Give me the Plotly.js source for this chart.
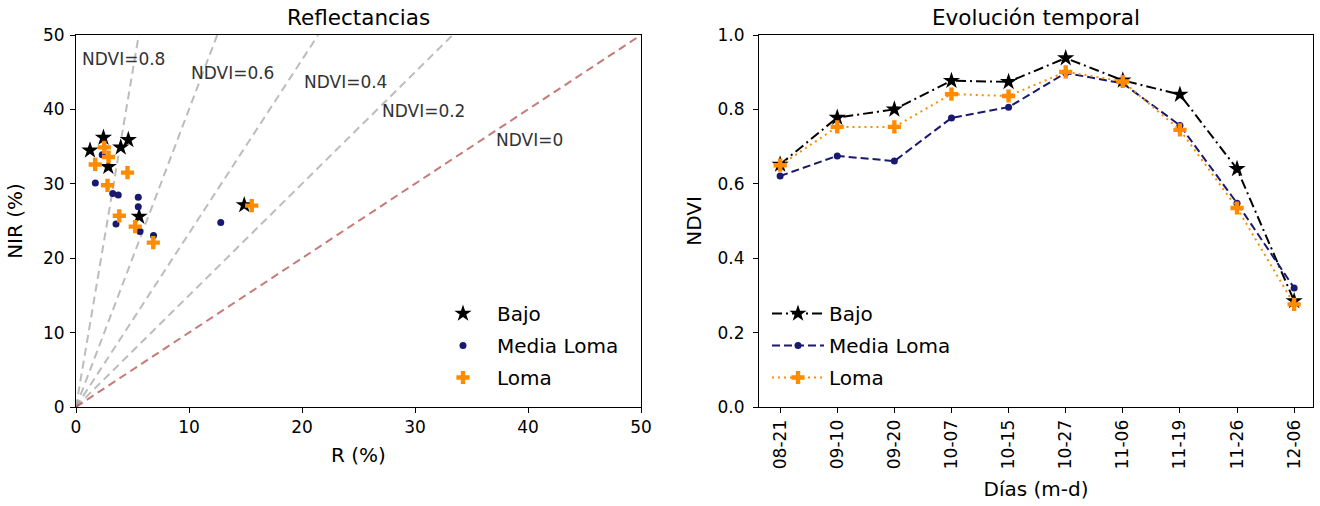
<!DOCTYPE html>
<html>
<head>
<meta charset="utf-8">
<script src="https://cdn.plot.ly/plotly-3.0.1.min.js"></script>
<style>body{margin:0;padding:0;background:#fff}#chart{width:1320px;height:506px}</style>
</head>
<body>
<div id="chart"></div>
<script>
// ---- Left panel: reflectances (R %, NIR %) ----
const bajoR   = [1.24, 2.43, 2.86, 3.96, 4.63, 5.59, 14.89];
const bajoNIR = [34.5, 36.2, 32.3, 34.9, 35.9, 25.6, 27.15];
const mediaR   = [1.71, 2.32, 3.25, 3.74, 5.51, 5.51, 3.54, 5.66, 6.86, 12.81];
const mediaNIR = [30.1, 33.9, 28.7, 28.5, 28.2, 26.9, 24.6, 23.6, 23.05, 24.8];
const lomaR   = [2.50, 2.88, 1.70, 4.56, 2.79, 3.83, 5.24, 6.84, 15.55];
const lomaNIR = [34.9, 33.6, 32.6, 31.5, 29.8, 25.7, 24.25, 22.1, 27.06];
const ndviLevels = [0.8, 0.6, 0.4, 0.2, 0];
const ndviLabels = ["NDVI=0.8", "NDVI=0.6", "NDVI=0.4", "NDVI=0.2", "NDVI=0"];
const ndviLabelPos = [[0.35, 46.8], [10.0, 44.9], [20.0, 43.7], [26.9, 39.8], [37.0, 35.9]];

// ---- Right panel: NDVI time series ----
const dates = ["08-21","09-10","09-20","10-07","10-15","10-27","11-06","11-19","11-26","12-06"];
const ndviBajo  = [0.652, 0.778, 0.800, 0.877, 0.874, 0.938, 0.878, 0.840, 0.640, 0.285];
const ndviMedia = [0.621, 0.675, 0.661, 0.777, 0.806, 0.898, 0.870, 0.757, 0.548, 0.320];
const ndviLoma  = [0.650, 0.753, 0.753, 0.841, 0.836, 0.901, 0.875, 0.745, 0.535, 0.276];

const NAVY = '#191970', ORANGE = '#ff8c00';
const traces = [];
const AX = 50;
ndviLevels.forEach((n, i) => {
  const s = (1 + n) / (1 - n);
  const xe = Math.min(AX, AX / s);
  traces.push({
    x: [0, xe], y: [0, xe * s], mode: 'lines', type: 'scatter', xaxis: 'x', yaxis: 'y',
    line: {color: n === 0 ? 'rgba(178,80,75,0.75)' : 'rgba(160,160,160,0.7)', dash: '8px,5px', width: 2},
    showlegend: false, hoverinfo: 'skip'
  });
});
traces.push({x: bajoR, y: bajoNIR, mode: 'markers', type: 'scatter', name: 'Bajo', legend: 'legend', legendgroup: 'a',
  marker: {symbol: 'star', color: 'black', size: 13}, xaxis: 'x', yaxis: 'y'});
traces.push({x: mediaR, y: mediaNIR, mode: 'markers', type: 'scatter', name: 'Media Loma', legend: 'legend', legendgroup: 'b',
  marker: {symbol: 'circle', color: NAVY, size: 7}, xaxis: 'x', yaxis: 'y'});
traces.push({x: lomaR, y: lomaNIR, mode: 'markers', type: 'scatter', name: 'Loma', legend: 'legend', legendgroup: 'c',
  marker: {symbol: 'cross', color: ORANGE, size: 11}, xaxis: 'x', yaxis: 'y'});

traces.push({x: dates, y: ndviBajo, mode: 'lines+markers', type: 'scatter', name: 'Bajo', legend: 'legend2', legendgroup: 'd',
  line: {color: 'black', dash: '10px,4px,2px,4px', width: 2}, marker: {symbol: 'star', color: 'black', size: 13},
  xaxis: 'x2', yaxis: 'y2'});
traces.push({x: dates, y: ndviMedia, mode: 'lines+markers', type: 'scatter', name: 'Media Loma', legend: 'legend2', legendgroup: 'e',
  line: {color: NAVY, dash: '8px,4px', width: 2}, marker: {symbol: 'circle', color: NAVY, size: 7},
  xaxis: 'x2', yaxis: 'y2'});
traces.push({x: dates, y: ndviLoma, mode: 'lines+markers', type: 'scatter', name: 'Loma', legend: 'legend2', legendgroup: 'f',
  line: {color: ORANGE, dash: '2px,4px', width: 2}, marker: {symbol: 'cross', color: ORANGE, size: 11},
  xaxis: 'x2', yaxis: 'y2'});

const W = 1320, H = 506;
const px = v => v / W, py = v => 1 - v / H;
const axisCommon = {
  showline: true, mirror: true, linecolor: 'black', linewidth: 1, ticks: 'outside', ticklen: 5, tickwidth: 1,
  tickcolor: 'black', showgrid: false, zeroline: false, tickfont: {size: 17, color: 'black'}
};
const annotations = ndviLabels.map((t, i) => ({
  text: t, x: ndviLabelPos[i][0], y: ndviLabelPos[i][1], xref: 'x', yref: 'y', xanchor: 'left', yanchor: 'middle',
  showarrow: false, font: {size: 17, color: '#333'}
}));
annotations.push({text: 'Reflectancias', x: px(358), y: py(17), xref: 'paper', yref: 'paper', showarrow: false,
  xanchor: 'center', yanchor: 'middle', font: {size: 21.5, color: 'black'}});
annotations.push({text: 'Evolución temporal', x: px(1036), y: py(17), xref: 'paper', yref: 'paper', showarrow: false,
  xanchor: 'center', yanchor: 'middle', font: {size: 21.5, color: 'black'}});

const layout = {
  width: W, height: H, margin: {l: 0, r: 0, t: 0, b: 0}, paper_bgcolor: 'white', plot_bgcolor: 'white',
  font: {family: 'DejaVu Sans', color: 'black'},
  xaxis: Object.assign({}, axisCommon, {domain: [px(76), px(641)], range: [0, 50], dtick: 10, anchor: 'y',
    title: {text: 'R (%)', font: {size: 20}, standoff: 11}}),
  yaxis: Object.assign({}, axisCommon, {domain: [py(407), py(35)], range: [0, 50], dtick: 10, anchor: 'x',
    ticklabelstandoff: 2, title: {text: 'NIR (%)', font: {size: 20}, standoff: 14}}),
  xaxis2: Object.assign({}, axisCommon, {domain: [px(759), px(1313)], range: [-0.37, 9.33], anchor: 'y2',
    type: 'category', tickangle: -90, title: {text: 'Días (m-d)', font: {size: 20}, standoff: 13}}),
  yaxis2: Object.assign({}, axisCommon, {domain: [py(407), py(35)], range: [0, 1.0], dtick: 0.2, tickformat: '.1f',
    anchor: 'x2', ticklabelstandoff: 5, title: {text: 'NDVI', font: {size: 20}, standoff: 10}}),
  legend: {x: px(429), y: py(294), xanchor: 'left', yanchor: 'top', bgcolor: 'rgba(0,0,0,0)', font: {size: 20},
    tracegroupgap: 3, itemwidth: 58},
  legend2: {x: px(767), y: py(294), xanchor: 'left', yanchor: 'top', bgcolor: 'rgba(0,0,0,0)', font: {size: 20},
    tracegroupgap: 3, itemwidth: 52},
  annotations: annotations
};
Plotly.newPlot('chart', traces, layout, {displayModeBar: false, staticPlot: true});
</script>
</body>
</html>
